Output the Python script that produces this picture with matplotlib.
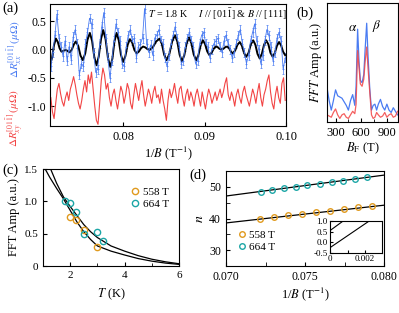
import numpy as np
import matplotlib
matplotlib.use('Agg')
import matplotlib.pyplot as plt

plt.rcParams['font.family'] = ['Liberation Serif', 'DejaVu Serif']
plt.rcParams['mathtext.fontset'] = 'stix'
plt.rcParams['axes.unicode_minus'] = False
plt.rcParams['xtick.direction'] = 'in'
plt.rcParams['ytick.direction'] = 'in'
plt.rcParams['axes.linewidth'] = 0.8

BLUE = '#4a7cf2'
RED = '#f24444'
ORANGE = '#e09a1e'
CYAN = '#1ca6a6'

# ---- (a) oscillations vs 1/B
invB_start, invB_end = 0.0711, 0.0999
dRxx = [-0.30, -0.05, 0.25, 0.62, 0.20, 0.05, -0.12, 0.15, -0.20, 0.05,
        -0.18, 0.22, 0.35, 0.10, -0.45, -0.25, -0.30, 0.10, 0.30, 0.55,
        0.45, -0.05, -0.40, -0.35, 0.10, 0.40, 0.65, 0.20, -0.15, -0.50,
        -0.20, 0.15, 0.45, 0.30, 0.15, -0.25, -0.30, 0.05, 0.25, 0.35,
        0.15, 0.20, -0.15, 0.05, 0.10, 0.20, 0.72, 0.10, -0.05, 0.08,
        -0.10, 0.20, 0.25, 0.35, 0.15, 0.10, -0.15, -0.30, -0.10, 0.10,
        0.25, 0.40, 0.20, 0.05, -0.25, -0.20, 0.05, 0.20, 0.30, 0.15,
        0.05, -0.25, -0.20, 0.10, 0.25, 0.30, 0.10, 0.05, -0.15, 0.00,
        0.10, 0.15, 0.20, 0.05, -0.05, 0.15, 0.25, 0.10, 0.00, -0.15,
        -0.05, 0.10, 0.25, 0.35, 0.10, -0.05, -0.25, -0.10, 0.15, 0.30,
        0.45, 0.15, 0.00, -0.25, -0.10, 0.15, 0.35, 0.25, 0.05, -0.20,
        -0.05, 0.20, 0.30, 0.15, -0.35, -0.15]
dRxx_err = 0.08

dRxy = [-0.85, -1.10, -1.22, -0.95, -0.70, -0.60, -0.78, -0.92, -1.00, -0.85,
        -0.75, -0.90, -0.70, -0.60, -0.48, -0.62, -0.80, -0.95, -1.05, -0.90,
        -0.70, -0.55, -0.75, -0.45, -0.60, -0.40, -0.70, -1.00, -1.25, -1.32,
        -0.95, -0.55, -0.33, -0.45, -0.70, -0.60, -0.85, -1.00, -0.80, -0.70,
        -0.90, -1.05, -0.85, -0.65, -0.75, -0.95, -0.80, -0.60, -0.70, -0.95,
        -1.05, -0.80, -0.60, -0.75, -0.90, -0.70, -0.55, -0.80, -1.00, -0.85,
        -0.70, -0.80, -0.95, -0.75, -0.65, -0.85, -0.80, -0.95, -0.70, -0.90,
        -1.05, -1.25, -0.90, -0.70, -0.85, -0.75, -0.60, -0.80, -0.95, -0.70,
        -0.65, -0.85, -1.00, -0.80, -0.70, -0.90, -0.75, -0.85, -1.00, -0.80,
        -0.70, -0.85, -1.00, -0.75, -0.90, -1.05, -0.85, -0.70, -0.80, -0.95,
        -0.85, -0.75, -0.90, -0.80, -0.70, -0.85, -0.75, -0.60, -0.50, -0.80,
        -0.90, -0.75, -0.85, -1.00, -0.80, -0.70, -0.85, -0.95, -0.75, -0.65,
        -0.80, -0.90, -1.00, -0.85, -0.70, -0.80, -0.95, -0.75, -0.60, -0.85,
        -1.00, -0.80, -0.70, -0.55, -0.45, -0.75, -0.95, -1.05, -0.80, -0.65,
        -0.85, -0.95, -0.60, -0.50, -0.90]

# fitted curve (extremes plus two points between each)
fit_x = [0.07100, 0.07124, 0.07149, 0.07173, 0.07196, 0.07218, 0.07241, 0.07257, 0.07274,
         0.07290, 0.07308, 0.07327, 0.07345, 0.07369, 0.07394, 0.07418, 0.07447, 0.07475,
         0.07504, 0.07533, 0.07561, 0.07590, 0.07617, 0.07645, 0.07672, 0.07699, 0.07727,
         0.07754, 0.07783, 0.07812, 0.07841, 0.07867, 0.07892, 0.07918, 0.07945, 0.07971,
         0.07998, 0.08026, 0.08054, 0.08082, 0.08110, 0.08137, 0.08165, 0.08191, 0.08218,
         0.08244, 0.08271, 0.08297, 0.08324, 0.08365, 0.08405, 0.08446, 0.08475, 0.08503,
         0.08532, 0.08567, 0.08601, 0.08636, 0.08665, 0.08693, 0.08722, 0.08750, 0.08779,
         0.08807, 0.08837, 0.08866, 0.08896, 0.08924, 0.08951, 0.08979, 0.09005, 0.09032,
         0.09058, 0.09085, 0.09111, 0.09138, 0.09160, 0.09183, 0.09205, 0.09230, 0.09254,
         0.09279, 0.09301, 0.09324, 0.09346, 0.09375, 0.09403, 0.09432, 0.09458, 0.09485,
         0.09511, 0.09540, 0.09568, 0.09597, 0.09624, 0.09650, 0.09677, 0.09703, 0.09730,
         0.09756, 0.09783, 0.09809, 0.09836, 0.09862, 0.09889, 0.09915, 0.09940, 0.09964,
         0.09989]
fit_y = [-0.27, -0.155, 0.075, 0.19, 0.13, 0.02, -0.04, -0.03, -0.02,
         -0.01, -0.02, -0.04, -0.05, 0.00, 0.09, 0.14, 0.06, -0.11,
         -0.19, -0.07, 0.17, 0.29, 0.15, -0.14, -0.28, -0.125, 0.185,
         0.34, 0.18, -0.15, -0.31, -0.16, 0.14, 0.29, 0.16, -0.09,
         -0.22, -0.12, 0.08, 0.18, 0.12, -0.01, -0.07, -0.04, 0.02,
         0.05, 0.035, 0.005, -0.01, 0.04, 0.14, 0.19, 0.095, -0.095,
         -0.19, -0.08, 0.14, 0.25, 0.135, -0.095, -0.21, -0.105, 0.105,
         0.21, 0.11, -0.09, -0.19, -0.10, 0.07, 0.16, 0.095, -0.035,
         -0.10, -0.06, 0.01, 0.05, 0.04, 0.01, 0.00, 0.01, 0.04,
         0.05, 0.02, -0.04, -0.07, -0.02, 0.08, 0.13, 0.065, -0.065,
         -0.13, -0.06, 0.09, 0.16, 0.08, -0.08, -0.16, -0.08, 0.08,
         0.16, 0.09, -0.06, -0.13, -0.065, 0.065, 0.13, 0.07, -0.04,
         -0.10]

# ---- (b) FFT
F = [200, 225, 250, 275, 300, 325, 350, 375, 400, 425, 450, 475, 500, 525, 540,
     558, 575, 590, 610, 630, 645, 664, 680, 700, 720, 740, 760, 780, 800, 825,
     850, 875, 900, 925, 950, 975, 1000, 1025]
fft_xx = [0.29, 0.18, 0.10, 0.18, 0.27, 0.22, 0.21, 0.20, 0.17, 0.14, 0.10, 0.18, 0.23, 0.14, 0.30,
          0.78, 0.50, 0.35, 0.33, 0.40, 0.60, 0.83, 0.55, 0.28, 0.10, 0.14, 0.15, 0.10, 0.15, 0.19,
          0.13, 0.10, 0.15, 0.10, 0.08, 0.12, 0.09, 0.06]
fft_xy = [0.06, 0.05, 0.04, 0.08, 0.11, 0.06, 0.03, 0.06, 0.07, 0.04, 0.03, 0.06, 0.09, 0.07, 0.15,
          0.60, 0.45, 0.32, 0.30, 0.36, 0.50, 0.63, 0.45, 0.25, 0.06, 0.03, 0.04, 0.08, 0.06, 0.04,
          0.05, 0.08, 0.04, 0.06, 0.07, 0.04, 0.05, 0.09]

# ---- (c) amplitude vs T
T_558 = [2.0, 2.2, 2.5, 3.0]
A_558 = [0.76, 0.71, 0.55, 0.30]
T_664 = [1.8, 2.0, 2.2, 2.5, 3.0, 3.2]
A_664 = [1.00, 0.97, 0.84, 0.50, 0.52, 0.385]
LK_T_lo = [1.08, 1.25, 1.5, 1.75, 2.0, 2.25, 2.5, 2.75, 3.0, 3.5, 4.0, 4.5, 5.0, 5.5, 6.0]
LK_lo = [1.5, 1.37, 1.20, 1.04, 0.86, 0.68, 0.53, 0.41, 0.31, 0.23, 0.17, 0.115, 0.075, 0.045, 0.025]
LK_T_hi = [1.28, 1.5, 1.75, 2.0, 2.25, 2.5, 2.75, 3.0, 3.5, 4.0, 4.5, 5.0, 5.5, 6.0]
LK_hi = [1.5, 1.28, 1.07, 0.92, 0.78, 0.64, 0.53, 0.44, 0.31, 0.23, 0.16, 0.105, 0.065, 0.035]

# ---- (d) Landau level index
invB_558 = [0.07213, 0.07302, 0.07391, 0.07479, 0.07568, 0.07658, 0.07747, 0.07835, 0.07924]
n_558 = [40, 40.5, 41, 41.5, 42, 42.5, 43, 43.5, 44]
invB_664 = [0.07220, 0.07291, 0.07365, 0.07441, 0.07514, 0.07595, 0.07668, 0.07742, 0.07818, 0.07894]
n_664 = [48.5, 49, 49.5, 50, 50.5, 51, 51.5, 52, 52.5, 53]
line_x = [0.070, 0.080]
line_558 = [38.6, 44.2]
line_664 = [47.1, 53.7]
inset_x558 = [0.0, 0.00224]
inset_558 = [-0.25, 1.0]
inset_x664 = [0.0, 0.00075]
inset_664 = [0.55, 1.0]

W, H = 399, 313
fig = plt.figure(figsize=(W / 100, H / 100), dpi=100)


def box(l, t, r, b):
    return [l / W, 1 - b / H, (r - l) / W, (b - t) / H]


# (a)
ax = fig.add_axes(box(50, 4, 286, 126))
xa = np.linspace(invB_start, invB_end, len(dRxx))
xr = np.linspace(invB_start, invB_end, len(dRxy))
ax.errorbar(xa, dRxx, yerr=dRxx_err, fmt='-+', color=BLUE, ms=2, lw=0.6,
            elinewidth=0.5, capsize=0.7, mew=0.5)
ax.plot(xr, dRxy, color=RED, lw=0.8)
ax.plot(fit_x, fit_y, color='k', lw=1.4, solid_joinstyle='round')
ax.set_xlim(0.071, 0.100)
ax.set_ylim(-1.35, 0.80)
ax.set_xticks([0.08, 0.09, 0.10])
ax.set_xticklabels(['0.08', '0.09', '0.10'])
ax.set_yticks([0.5, 0.0, -0.5, -1.0])
ax.set_yticklabels(['0.5', '0.0', '-0.5', '-1.0'])
ax.tick_params(axis='x', labelsize=9, length=3)
ax.tick_params(axis='y', labelsize=8.5, length=3, pad=2.5)
ax.set_xlabel(r'1/$B$ (T$^{-1}$)', fontsize=9, labelpad=1)
ax.text(1.005, 0.92, r'$T$ = 1.8 K     $I$ // [01$\bar{1}$] & $B$ // [111]',
        transform=ax.transAxes, ha='right', va='center', fontsize=7.2)
fig.text(15 / W, 1 - 49 / H, r'$\Delta R_{xx}^{[01\bar{1}]}\,(\mu\Omega)$',
         rotation=90, ha='center', va='center', color=BLUE, fontsize=8)
fig.text(15 / W, 1 - 118 / H, r'$\Delta R_{xy}^{[01\bar{1}]}\,(\mu\Omega)$',
         rotation=90, ha='center', va='center', color=RED, fontsize=8)

# (b)
bx = fig.add_axes(box(327, 3, 398, 122))
bx.plot(F, fft_xx, color=BLUE, lw=0.9)
bx.plot(F, fft_xy, color=RED, lw=0.9, alpha=0.85)
bx.set_xlim(200, 1030)
bx.set_ylim(0, 1)
bx.set_yticks([])
bx.set_xticks([300, 600, 900])
bx.set_xticks([450, 750], minor=True)
bx.tick_params(labelsize=9, length=3)
bx.tick_params(which='minor', length=2)
bx.set_xlabel(r'$B_{\rm F}$ (T)', fontsize=9, labelpad=1)
bx.set_ylabel(r'$FFT$ Amp (a.u.)', fontsize=9, labelpad=2)
bx.text(500, 0.79, r'$\alpha$', ha='center', va='center', fontsize=9.5)
bx.text(775, 0.81, r'$\beta$', ha='center', va='center', fontsize=9.5)

# (c)
cx = fig.add_axes(box(43, 169, 179, 266))
cx.plot(LK_T_lo, LK_lo, color='k', lw=0.9)
cx.plot(LK_T_hi, LK_hi, color='k', lw=0.9)
cx.plot(T_558, A_558, 'o', mfc='none', mec=ORANGE, ms=4.5, mew=1, label='558 T')
cx.plot(T_664, A_664, 'o', mfc='none', mec=CYAN, ms=4.5, mew=1, label='664 T')
cx.set_xlim(1, 6)
cx.set_ylim(0, 1.5)
cx.set_xticks([2, 4, 6])
cx.set_xticks([1, 3, 5], minor=True)
cx.set_yticks([0, 0.5, 1.0, 1.5])
cx.set_yticklabels(['0', '0.5', '1.0', '1.5'])
cx.tick_params(labelsize=8, length=3)
cx.tick_params(which='minor', length=2)
cx.set_xlabel(r'$T$ (K)', fontsize=9, labelpad=5)
cx.set_ylabel('FFT Amp (a.u.)', fontsize=9, labelpad=3)
cx.legend(loc='upper right', frameon=False, fontsize=8, handletextpad=0.2,
          handlelength=1.0, borderaxespad=0.5, labelspacing=0.2,
          bbox_to_anchor=(1.0, 0.92))

# (d)
dx = fig.add_axes(box(226, 171, 384, 266))
dx.plot(line_x, line_558, color='k', lw=0.9)
dx.plot(line_x, line_664, color='k', lw=0.9)
dx.plot(invB_558, n_558, 'o', mfc='none', mec=ORANGE, ms=4, mew=1, label='558 T')
dx.plot(invB_664, n_664, 'o', mfc='none', mec=CYAN, ms=4, mew=1, label='664 T')
dx.set_xlim(0.070, 0.080)
dx.set_ylim(25, 55)
dx.set_xticks([0.070, 0.075, 0.080])
dx.set_xticklabels(['0.070', '0.075', '0.080'])
dx.set_xticks([0.0725, 0.0775], minor=True)
dx.set_yticks([30, 40, 50])
dx.set_yticks([35, 45], minor=True)
dx.tick_params(labelsize=8.5, length=3)
dx.tick_params(which='minor', length=3)
dx.set_xlabel(r'1/$B$ (T$^{-1}$)', fontsize=9, labelpad=2)
dx.set_ylabel(r'$n$', fontsize=10, labelpad=2)
dx.legend(loc='lower left', frameon=False, fontsize=8, handletextpad=0.2,
          handlelength=1.0, labelspacing=0.2, bbox_to_anchor=(0.0, 0.04))

ix = fig.add_axes(box(330, 221, 382.5, 253))
ix.plot(inset_x558, inset_558, color='k', lw=0.8)
ix.plot(inset_x664, inset_664, color='k', lw=0.8)
ix.set_xlim(0, 0.003)
ix.set_ylim(-0.5, 1.0)
ix.set_xticks([0, 0.001, 0.002])
ix.set_xticklabels(['0', '', '0.002'])
ix.set_yticks([-0.5, 0.0, 0.5, 1.0])
ix.set_yticklabels(['-0.5', '0.0', '0.5', '1.0'])
ix.tick_params(labelsize=6.5, length=2, pad=1.5)

fig.text(2 / W, 1 - 8 / H, '(a)', fontsize=10.5, va='center')
fig.text(296 / W, 1 - 13 / H, '(b)', fontsize=10.5, va='center')
fig.text(2 / W, 1 - 170 / H, '(c)', fontsize=10.5, va='center')
fig.text(189 / W, 1 - 175 / H, '(d)', fontsize=10.5, va='center')

fig.savefig('out.png', dpi=100)
